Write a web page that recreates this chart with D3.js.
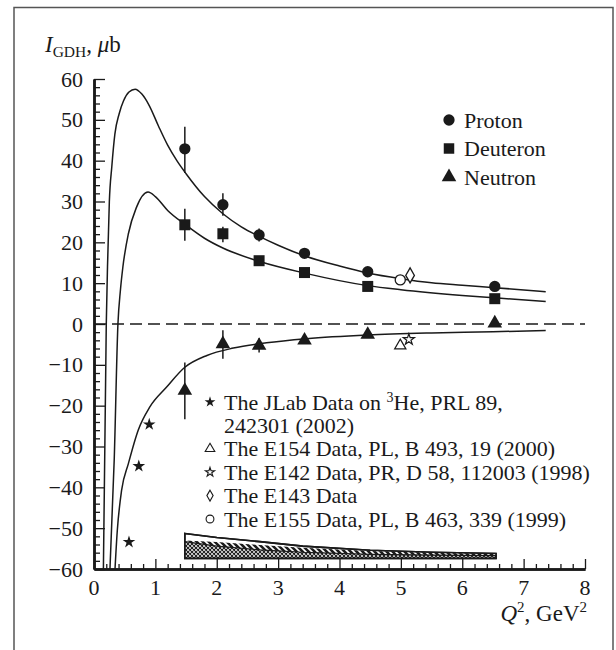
<!DOCTYPE html>
<html><head><meta charset="utf-8">
<script src="https://cdn.jsdelivr.net/npm/d3@7"></script>
<style>
body{margin:0;background:#fff}
svg{display:block}
</style>
</head><body>
<svg id="chart" width="616" height="650"></svg>
<script>
// ---------------- data ----------------
const xTickValues = [0, 1, 2, 3, 4, 5, 6, 7, 8];
const yTickValues = [-60, -50, -40, -30, -20, -10, 0, 10, 20, 30, 40, 50, 60];

const q2Points = [1.48, 2.1, 2.69, 3.43, 4.46, 6.53];
const protonValues = [42.9, 29.2, 21.8, 17.3, 12.8, 9.2];
const protonErrLow = [37.0, 26.5, 20.2, 17.3, 12.8, 9.2];
const protonErrHigh = [48.3, 32.0, 23.4, 17.3, 12.8, 9.2];
const deuteronValues = [24.3, 22.1, 15.5, 12.6, 9.2, 6.2];
const deuteronErrLow = [20.4, 20.0, 15.5, 12.6, 9.2, 6.2];
const deuteronErrHigh = [28.2, 23.8, 15.5, 12.6, 9.2, 6.2];
const neutronValues = [-16.3, -4.9, -5.3, -4.0, -2.6, 0.2];
const neutronErrLow = [-23.3, -8.5, -7.0, -4.0, -2.6, 0.2];
const neutronErrHigh = [-9.4, -1.5, -3.5, -4.0, -2.6, 0.2];

const jlabQ2 = [0.57, 0.73, 0.9];
const jlabValues = [-53.4, -34.8, -24.6];
const e154 = [4.99, -5.3];
const e142 = [5.13, -3.8];
const e143 = [5.15, 11.9];
const e155 = [4.99, 10.8];

const protonCurveX = [0.15, 0.2, 0.22, 0.25, 0.29, 0.34, 0.41, 0.48, 0.57, 0.67, 0.78, 0.9, 1.05, 1.2, 1.35, 1.5, 1.8, 2.1, 2.4, 2.7, 3.0, 3.45, 4.0, 4.46, 5.0, 5.5, 6.0, 6.53, 7.36];
const protonCurveY = [-64, 0, 14, 30, 38.5, 46.5, 51.5, 54.6, 56.8, 57.5, 56.3, 53.5, 48.5, 43.8, 40, 36.8, 31.2, 27, 23.8, 21.4, 19.3, 16.6, 14.2, 12.5, 11.1, 10.1, 9.5, 8.9, 7.9];
const deuteronCurveX = [0.255, 0.33, 0.39, 0.43, 0.47, 0.56, 0.69, 0.88, 1.0, 1.2, 1.5, 1.8, 2.1, 2.7, 3.45, 4.46, 5.0, 6.0, 6.53, 7.36];
const deuteronCurveY = [-62, -33, 0, 8.2, 13.9, 22.1, 28.5, 32.3, 31.2, 27.8, 24.2, 21, 18.6, 15.3, 12.4, 9.4, 8.4, 7.0, 6.4, 5.5];
const neutronCurveX = [0.335, 0.38, 0.45, 0.56, 0.72, 0.91, 1.18, 1.48, 1.84, 2.27, 2.81, 3.46, 4.46, 5.5, 6.5, 7.36];
const neutronCurveY = [-62, -50.5, -40.7, -34.2, -26.0, -20.3, -15.5, -10.6, -7.7, -5.9, -4.6, -3.6, -2.7, -2.2, -1.9, -1.6];

const bandX = [1.48, 2.0, 2.7, 3.4, 4.5, 5.5, 6.55];
const bandOuterTop = [-51.3, -52.3, -53.3, -54.4, -55.4, -55.9, -56.2];
const bandDiagTop = [-53.0, -53.4, -54.1, -54.8, -55.6, -56.0, -56.3];
const bandCrossTop = [-53.3, -54.4, -55.3, -55.9, -56.4, -56.6, -56.7];
const bandBottom = [-57.4, -57.4, -57.4, -57.4, -57.4, -57.4, -57.4];

const topLegend = ["Proton", "Deuteron", "Neutron"];
const bottomLegend = [
  "The E154 Data, PL, B 493, 19 (2000)",
  "The E142 Data, PR, D 58, 112003 (1998)",
  "The E143 Data",
  "The E155 Data, PL, B 463, 339 (1999)"
];

// ---------------- drawing ----------------
const FONT = "Liberation Serif";
const svg = d3.select("#chart");
const x = d3.scaleLinear().domain([0, 8]).range([94, 585]);
const y = d3.scaleLinear().domain([-60, 60]).range([569, 79]);
const ink = "#1a1a1a";

// frame
svg.append("path")
  .attr("d", "M14,652 L14,7.5 L613,7.5 L613,652")
  .attr("fill", "none").attr("stroke", "#555").attr("stroke-width", 1.5);

const defs = svg.append("defs");
defs.append("clipPath").attr("id", "plot")
  .append("rect").attr("x", x(0)).attr("y", y(60)).attr("width", x(8) - x(0)).attr("height", y(-60) - y(60));

const cross = defs.append("pattern").attr("id", "cross").attr("patternUnits", "userSpaceOnUse")
  .attr("width", 4).attr("height", 4);
cross.append("rect").attr("width", 4).attr("height", 4).attr("fill", "#fff");
cross.append("path").attr("d", "M0,0 L4,4 M4,0 L0,4 M-1,1 L1,-1 M3,5 L5,3 M-1,3 L1,5 M3,-1 L5,1")
  .attr("stroke", ink).attr("stroke-width", 1.1);

const diag = defs.append("pattern").attr("id", "diag").attr("patternUnits", "userSpaceOnUse")
  .attr("width", 6).attr("height", 6);
diag.append("rect").attr("width", 6).attr("height", 6).attr("fill", ink);
diag.append("path").attr("d", "M0,0 L6,6 M-3,3 L3,9 M3,-3 L9,3")
  .attr("stroke", "#fff").attr("stroke-width", 1.6);

// hatched band
const areaOf = (top, bot) => d3.area()
  .x((d, i) => x(bandX[i])).y0((d, i) => y(bot[i])).y1((d, i) => y(top[i]));
svg.append("path").datum(bandX).attr("d", areaOf(bandOuterTop, bandBottom))
  .attr("fill", "#fff").attr("stroke", ink).attr("stroke-width", 1.6);
svg.append("path").datum(bandX).attr("d", areaOf(bandDiagTop, bandBottom))
  .attr("fill", "url(#diag)").attr("stroke", "none");
svg.append("path").datum(bandX).attr("d", areaOf(bandCrossTop, bandBottom))
  .attr("fill", "url(#cross)").attr("stroke", ink).attr("stroke-width", 1.2);
svg.append("path").datum(bandX).attr("d", areaOf(bandOuterTop, bandBottom))
  .attr("fill", "none").attr("stroke", ink).attr("stroke-width", 1.6);

// zero dashed line
svg.append("line").attr("x1", x(0)).attr("x2", x(8)).attr("y1", y(0)).attr("y2", y(0))
  .attr("stroke", ink).attr("stroke-width", 1.3).attr("stroke-dasharray", "12,6");

// curves
const curveG = svg.append("g").attr("clip-path", "url(#plot)");
const lineGen = (xs, ys) => d3.line().curve(d3.curveMonotoneX)
  .x((d, i) => x(xs[i])).y((d, i) => y(ys[i]))(xs);
[[protonCurveX, protonCurveY], [deuteronCurveX, deuteronCurveY], [neutronCurveX, neutronCurveY]]
  .forEach(([xs, ys]) => {
    curveG.append("path").attr("d", lineGen(xs, ys))
      .attr("fill", "none").attr("stroke", ink).attr("stroke-width", 1.5);
  });

// axes (lines and ticks via d3 axes; labels placed through the same scales)
const yMinorVals = d3.range(-60, 61, 2).filter(v => v % 10 !== 0);
const xMinorVals = d3.range(0, 40).map(v => v / 5).filter((v, i) => i % 5 !== 0);
const yAxisMajor = d3.axisLeft(y).tickValues(yTickValues).tickSize(-11).tickSizeOuter(0).tickFormat("");
const yAxisMinor = d3.axisLeft(y).tickValues(yMinorVals).tickSize(-6).tickSizeOuter(0).tickFormat("");
const xAxisMajor = d3.axisBottom(x).tickValues(xTickValues).tickSize(-10).tickSizeOuter(0).tickFormat("");
const xAxisMinor = d3.axisBottom(x).tickValues(xMinorVals).tickSize(-5).tickSizeOuter(0).tickFormat("");
function styleAxis(g) {
  g.select(".domain").attr("stroke", ink).attr("stroke-width", 2.5);
  g.selectAll(".tick line").attr("stroke", ink).attr("stroke-width", 1.3);
}
svg.append("g").attr("transform", `translate(${x(0)},0)`).call(yAxisMinor).call(styleAxis);
svg.append("g").attr("transform", `translate(${x(0)},0)`).call(yAxisMajor).call(styleAxis);
svg.append("g").attr("transform", `translate(0,${y(-60)})`).call(xAxisMinor).call(styleAxis);
svg.append("g").attr("transform", `translate(0,${y(-60)})`).call(xAxisMajor).call(styleAxis);

const fmt = d3.format("d");
const label = (xx, yy, size) => svg.append("text").attr("x", xx).attr("y", yy)
  .attr("font-family", FONT).attr("font-size", size).attr("fill", ink);
yTickValues.forEach(v => label(x(0) - 11, y(v) + 7.5, 22).attr("text-anchor", "end").text(fmt(v)));
xTickValues.forEach(v => label(x(v), y(-60) + 26, 22).attr("text-anchor", "middle").text(fmt(v)));

// error bars
function errorBars(vals, lo, hi) {
  svg.append("g").selectAll("line").data(q2Points).join("line")
    .attr("x1", d => x(d)).attr("x2", d => x(d))
    .attr("y1", (d, i) => y(lo[i])).attr("y2", (d, i) => y(hi[i]))
    .attr("stroke", ink).attr("stroke-width", 1.5);
}
errorBars(protonValues, protonErrLow, protonErrHigh);
errorBars(deuteronValues, deuteronErrLow, deuteronErrHigh);
errorBars(neutronValues, neutronErrLow, neutronErrHigh);

// markers
const sym = (type, size) => d3.symbol().type(type).size(size)();
function markers(xs, ys, type, size, filled, sw) {
  svg.append("g").selectAll("path").data(xs).join("path")
    .attr("transform", (d, i) => `translate(${x(d)},${y(ys[i])})`)
    .attr("d", sym(type, size))
    .attr("fill", filled ? ink : "#fff").attr("stroke", ink).attr("stroke-width", sw || 0);
}
markers(q2Points, protonValues, d3.symbolCircle, 100, true);
markers(q2Points, deuteronValues, d3.symbolSquare, 121, true);
markers(q2Points, neutronValues, d3.symbolTriangle, 92, true);
markers(jlabQ2, jlabValues, d3.symbolStar, 50, true);
markers([e154[0]], [e154[1]], d3.symbolTriangle, 55, false, 1.2);
markers([e142[0]], [e142[1]], d3.symbolStar, 38, false, 1.2);
markers([e143[0]], [e143[1]], d3.symbolDiamond, 65, false, 1.3);
markers([e155[0]], [e155[1]], d3.symbolCircle, 80, false, 1.3);

// top legend
const tlTypes = [[d3.symbolCircle, 100], [d3.symbolSquare, 110], [d3.symbolTriangle, 92]];
topLegend.forEach((name, i) => {
  const cy = 120 + i * 28.5;
  svg.append("path").attr("transform", `translate(449,${cy})`).attr("d", sym(tlTypes[i][0], tlTypes[i][1])).attr("fill", ink);
  label(464, cy + 7.5, 22).text(name);
});

// bottom legend
const lx = 210, tx = 224, rowH = 23.4, r0 = 402, LS = 22;
svg.append("path").attr("transform", `translate(${lx},${r0})`).attr("d", sym(d3.symbolStar, 36)).attr("fill", ink);
const t1 = label(tx, r0 + 7.5, LS);
t1.append("tspan").text("The JLab Data on ");
t1.append("tspan").attr("font-size", 14).attr("dy", -8).text("3");
t1.append("tspan").attr("dy", 8).text("He, PRL 89,");
label(tx, r0 + rowH + 7.5, LS).text("242301 (2002)");
const blSyms = [[d3.symbolTriangle, 40], [d3.symbolStar, 26], [d3.symbolDiamond, 34], [d3.symbolCircle, 48]];
bottomLegend.forEach((name, i) => {
  const cy = r0 + rowH * (i + 2);
  svg.append("path").attr("transform", `translate(${lx},${cy})`).attr("d", sym(blSyms[i][0], blSyms[i][1]))
    .attr("fill", "#fff").attr("stroke", ink).attr("stroke-width", 1.1);
  label(tx, cy + 7.5, LS).text(name);
});

// axis titles
const yt = label(45, 52, 23);
yt.append("tspan").attr("font-style", "italic").text("I");
yt.append("tspan").attr("font-size", 15.5).attr("dy", 5).text("GDH");
yt.append("tspan").attr("dy", -5).text(", ");
yt.append("tspan").attr("font-style", "italic").text("\u03BC");
yt.append("tspan").text("b");

const xt = label(587, 621, 23).attr("text-anchor", "end");
xt.append("tspan").attr("font-style", "italic").text("Q");
xt.append("tspan").attr("font-size", 15).attr("dy", -9).text("2");
xt.append("tspan").attr("dy", 9).text(", GeV");
xt.append("tspan").attr("font-size", 15).attr("dy", -9).text("2");
</script>
</body></html>
